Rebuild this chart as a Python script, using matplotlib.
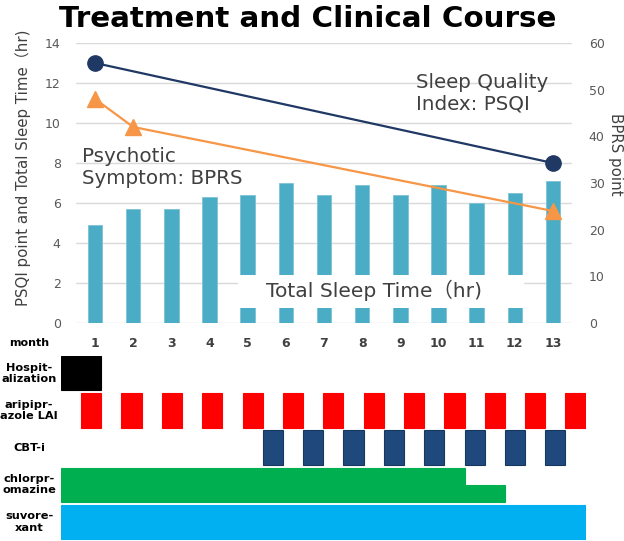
import matplotlib
matplotlib.use("Agg")
import matplotlib.pyplot as plt
from matplotlib.patches import Rectangle
from matplotlib.transforms import blended_transform_factory

# ---------------- data ----------------
months = [1, 2, 3, 4, 5, 6, 7, 8, 9, 10, 11, 12, 13]
total_sleep_hr = [4.9, 5.7, 5.7, 6.3, 6.4, 7.0, 6.4, 6.9, 6.4, 6.9, 6.0, 6.5, 7.1]
psqi_months = [1, 13]
psqi_values = [13, 8]
bprs_months = [1, 2, 13]
bprs_values = [48, 42, 24]

left_ticks = [0, 2, 4, 6, 8, 10, 12, 14]
right_ticks = [0, 10, 20, 30, 40, 50, 60]

# timeline (units: months from start of month 1)
row_labels = ["Hospit-\nalization", "aripipr-\nazole LAI", "CBT-i",
              "chlorpr-\nomazine", "suvore-\nxant"]
hosp_start = [0]
hosp_dur = [1]
lai_start = [0.5, 1.5, 2.5, 3.5, 4.5, 5.5, 6.5, 7.5, 8.5, 9.5, 10.5, 11.5, 12.5]
lai_dur = [0.5] * 13
cbt_start = [5, 6, 7, 8, 9, 10, 11, 12]
cbt_dur = [0.5] * 8
cpz_start = [0, 10]
cpz_dur = [10, 1]
cpz_level = [1.0, 0.5]
suvo_start = [0]
suvo_dur = [13]

# ---------------- figure ----------------
W, H = 624, 541
fig = plt.figure(figsize=(W / 100, H / 100), dpi=100)

def fx(px):
    return px / W

def fy(py):
    return 1 - py / H

TXT = "#404040"
TICK = "#595959"
CJK = ["DejaVu Sans", "Noto Sans CJK JP"]

# ---- top chart ----
ax = fig.add_axes([fx(76), fy(323), (572 - 76) / W, (323 - 43) / H])
ax.set_xlim(0.5, 13.5)
ax.set_ylim(0, 14)
ax.set_yticks(left_ticks)
ax.yaxis.grid(True, color="#D9D9D9", lw=1.0)
ax.set_axisbelow(True)
for s in ax.spines.values():
    s.set_visible(False)
ax.tick_params(axis="y", length=0, pad=11, labelsize=9, labelcolor=TICK)
ax.set_xticks(months)
ax.set_xticklabels([str(m) for m in months], fontweight="bold", color=TXT)
ax.tick_params(axis="x", length=0, pad=10, labelsize=9)

ax.bar(months, total_sleep_hr, width=0.38, color="#4BACC6",
       edgecolor="#7CC3D6", linewidth=0.6, zorder=2)

# white label box over bars
ax.add_patch(Rectangle((4.75, 0.735), 12.24 - 4.75, 2.4 - 0.735,
                       facecolor="white", edgecolor="none", zorder=3))
ax.text(8.31, 1.31, "Total Sleep Time（hr)", ha="center", va="baseline",
        fontsize=14.6, color=TXT, family=CJK, zorder=4)

# PSQI on left axis
ax.plot(psqi_months, psqi_values, color="#203864", lw=1.6, marker="o",
        markersize=11, zorder=5)

ax2 = ax.twinx()
ax2.set_ylim(0, 60)
ax2.set_yticks(right_ticks)
for s in ax2.spines.values():
    s.set_visible(False)
ax2.tick_params(axis="y", length=0, pad=12, labelsize=9, labelcolor=TICK)
ax2.plot(bprs_months, bprs_values, color="#F79646", lw=1.6, marker="^",
         markersize=11, zorder=5)

ax.text(9.4, 12.52, "Sleep Quality\nIndex: PSQI", ha="left", va="top",
        fontsize=14.3, color=TXT, linespacing=1.2, zorder=6)
ax.text(0.667, 8.8, "Psychotic\nSymptom: BPRS", ha="left", va="top",
        fontsize=14.3, color=TXT, linespacing=1.2, zorder=6)

fig.text(fx(23), fy(167.5), "PSQI point and Total Sleep Time（hr)",
         rotation=90, ha="center", va="center", fontsize=10.8, color=TXT,
         family=CJK)
fig.text(fx(616), fy(154), "BPRS point", rotation=270, ha="center",
         va="center", fontsize=10.8, color=TXT)

fig.text(fx(307.5), fy(27), "Treatment and Clinical Course", ha="center",
         va="baseline", fontsize=21.2, fontweight="bold", color="black")

fig.text(fx(29), fy(343), "month", ha="center", va="center", fontsize=8,
         fontweight="bold", color="black")

# ---- timeline ----
pitch = 37.2
tl = fig.add_axes([fx(60.9), fy(356 + 5 * pitch), (585.6 - 60.9) / W, 5 * pitch / H])
tl.set_xlim(0, 13)
tl.set_ylim(5, 0)
tl.axis("off")
bh = 0.927

def draw_row(i, starts, durs, color, edge=None, levels=None):
    if levels is None:
        levels = [1.0] * len(starts)
    for s, d, lv in zip(starts, durs, levels):
        tl.bar(s, -bh * lv, width=d, bottom=i + bh, align="edge",
               color=color, edgecolor=edge if edge else color, linewidth=0.8)

draw_row(0, hosp_start, hosp_dur, "#000000")
draw_row(1, lai_start, lai_dur, "#FF0000")
draw_row(2, cbt_start, cbt_dur, "#1F497D", edge="#17375E")
draw_row(3, cpz_start, cpz_dur, "#00B050", levels=cpz_level)
draw_row(4, suvo_start, suvo_dur, "#00B0F0")

trans = blended_transform_factory(fig.transFigure, tl.transData)
for i, lab in enumerate(row_labels):
    tl.text(fx(29), i + bh / 2, lab, transform=trans, ha="center", va="center",
            fontsize=8.2, fontweight="bold", color="black", linespacing=1.15,
            multialignment="center")

fig.savefig("out.png", dpi=100)
